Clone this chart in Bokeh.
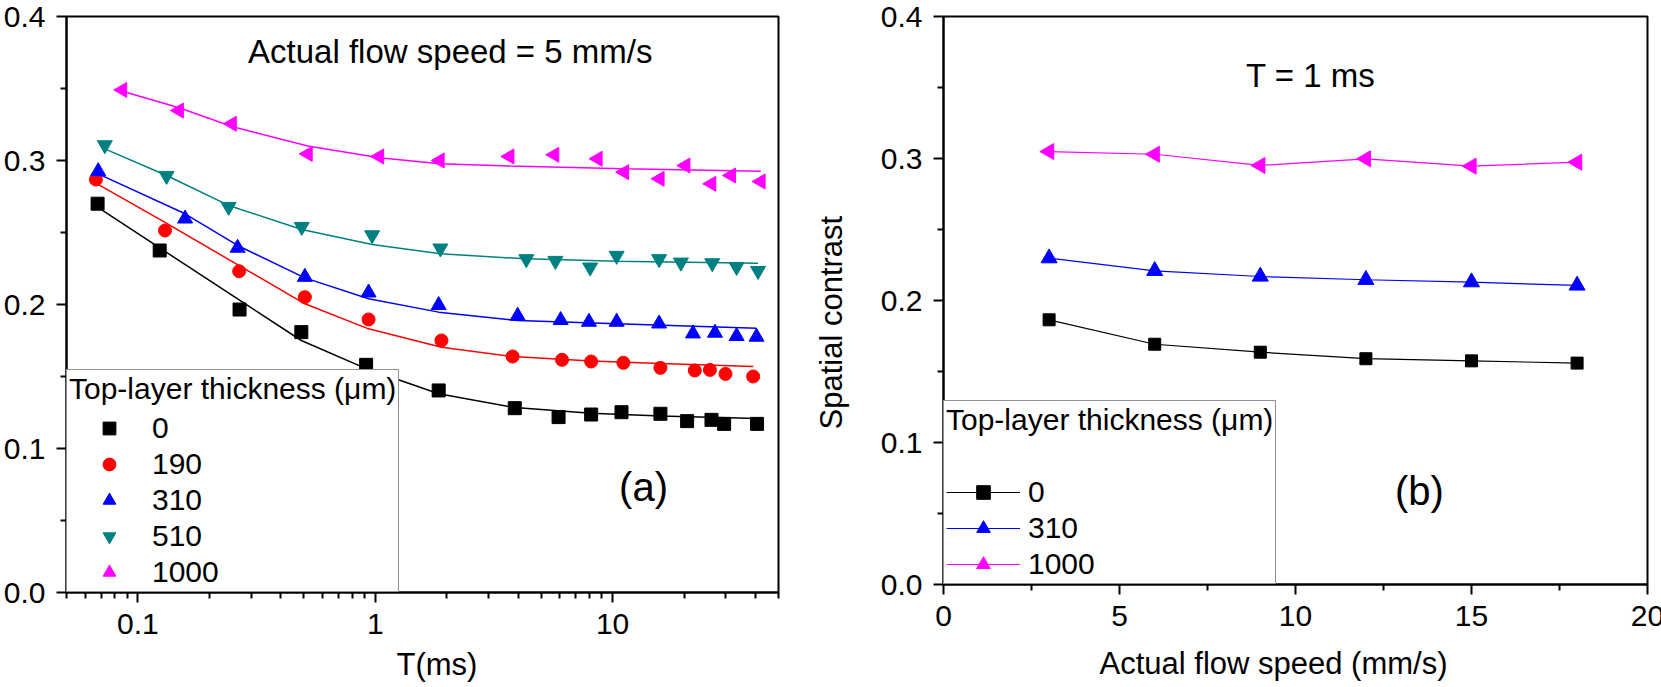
import numpy as np
from bokeh.plotting import figure
from bokeh.layouts import row
from bokeh.models import (FixedTicker, CustomJSTickFormatter, PrintfTickFormatter,
                          Legend, LegendItem, Label, Range1d, Title)
from bokeh.embed import file_html
from bokeh.resources import INLINE

FONT = "Liberation Sans"

# ---------------- data: panel (a) ----------------
t_0 = [0.0676, 0.1235, 0.268, 0.488, 0.915, 1.85, 3.87, 5.92, 8.12, 10.9, 15.9, 20.6, 26.1, 29.5, 40.6]
k_0 = [0.270, 0.2375, 0.1965, 0.1808, 0.1581, 0.1403, 0.128, 0.1218, 0.1236, 0.1252, 0.1241, 0.119, 0.1199, 0.1171, 0.1171]
t_190 = [0.0665, 0.130, 0.267, 0.505, 0.937, 1.90, 3.79, 6.12, 8.12, 11.1, 15.9, 22.2, 25.7, 29.9, 39.1]
k_190 = [0.2868, 0.2514, 0.2231, 0.2051, 0.1896, 0.175, 0.1639, 0.1616, 0.1604, 0.1595, 0.156, 0.1542, 0.1546, 0.1518, 0.150]
t_310 = [0.068, 0.158, 0.263, 0.505, 0.937, 1.85, 3.98, 6.04, 7.95, 10.4, 15.7, 21.8, 27.0, 33.3, 40.4]
k_310 = [0.2925, 0.2596, 0.2393, 0.2191, 0.2082, 0.1995, 0.1921, 0.1891, 0.1879, 0.1879, 0.1867, 0.1798, 0.1803, 0.178, 0.1775]
t_510 = [0.0725, 0.132, 0.241, 0.49, 0.97, 1.88, 4.33, 5.74, 8.04, 10.4, 15.7, 19.4, 26.3, 33.3, 41.0]
k_510 = [0.3107, 0.2894, 0.2679, 0.254, 0.2482, 0.239, 0.2316, 0.2304, 0.2258, 0.2339, 0.2316, 0.2292, 0.2288, 0.2262, 0.2234]
t_1000 = [0.086, 0.149, 0.249, 0.52, 1.04, 1.87, 3.68, 5.69, 8.66, 11.2, 15.8, 20.3, 26.1, 31.6, 42.1]
k_1000 = [0.349, 0.3347, 0.3255, 0.3046, 0.3028, 0.300, 0.3028, 0.304, 0.3012, 0.2919, 0.2873, 0.2965, 0.2838, 0.2896, 0.2854]

# fitted curves
ft_0 = [0.0676, 0.1235, 0.268, 0.488, 0.915, 1.85, 3.87, 8.12, 15.9, 40.6]
fk_0 = [0.2676, 0.2393, 0.2030, 0.1750, 0.1555, 0.1380, 0.1284, 0.1245, 0.1225, 0.1208]
ft_190 = [0.0665, 0.130, 0.267, 0.505, 0.937, 1.90, 3.79, 8.12, 15.9, 39.1]
fk_190 = [0.2843, 0.2570, 0.2270, 0.2005, 0.1831, 0.1703, 0.1639, 0.1608, 0.1590, 0.1570]
ft_310 = [0.068, 0.158, 0.263, 0.505, 0.937, 1.85, 3.98, 10.4, 40.4]
fk_310 = [0.2907, 0.2630, 0.2410, 0.2185, 0.2040, 0.1947, 0.1889, 0.1866, 0.1835]
ft_510 = [0.0725, 0.132, 0.241, 0.49, 0.97, 1.88, 4.33, 10.4, 41.0]
fk_510 = [0.3081, 0.2896, 0.2688, 0.2521, 0.2417, 0.2352, 0.2317, 0.2301, 0.2287]
ft_1000 = [0.086, 0.149, 0.249, 0.52, 1.04, 1.87, 3.68, 11.2, 42.1]
fk_1000 = [0.3481, 0.3366, 0.3236, 0.3100, 0.3019, 0.2977, 0.2961, 0.2942, 0.2926]

# ---------------- data: panel (b) ----------------
speed = [3, 6, 9, 12, 15, 18]
b_0 = [0.1864, 0.1692, 0.1636, 0.159, 0.1575, 0.1559]
b_310 = [0.2298, 0.2209, 0.2169, 0.2146, 0.2129, 0.2106]
b_1000 = [0.3049, 0.303, 0.2951, 0.2998, 0.2946, 0.2974]

y_ticks = [0.0, 0.1, 0.2, 0.3, 0.4]
y_minor = [0.05, 0.15, 0.25, 0.35]
x_ticks_a = [0.1, 1, 10]
x_minor_a = [0.05, 0.06, 0.07, 0.08, 0.09, 0.2, 0.3, 0.4, 0.5, 0.6, 0.7, 0.8, 0.9,
             2, 3, 4, 5, 6, 7, 8, 9, 20, 30, 40, 50]
x_ticks_b = [0, 5, 10, 15, 20]
x_minor_b = [2.5, 7.5, 12.5, 17.5]

BLACK, RED, BLUE, TEAL, MAGENTA = "#000000", "#FF0000", "#0000FF", "#008080", "#FF00FF"


def style(p):
    p.outline_line_color = "black"
    p.outline_line_width = 2
    p.grid.visible = False
    p.background_fill_color = "white"
    p.border_fill_color = "white"
    for ax in p.axis:
        ax.axis_line_width = 2
        ax.major_tick_line_width = 2
        ax.minor_tick_line_width = 2
        ax.major_tick_out = 10
        ax.major_tick_in = 0
        ax.minor_tick_out = 6
        ax.minor_tick_in = 0
        ax.major_label_text_font = FONT
        ax.major_label_text_font_size = "30px"
        ax.major_label_text_color = "black"
        ax.major_label_standoff = 11


def legend_style(lg):
    lg.border_line_color = "#222222"
    lg.border_line_width = 1
    lg.background_fill_color = "white"
    lg.background_fill_alpha = 1
    lg.margin = 0
    lg.label_text_font = FONT
    lg.label_text_font_size = "30px"
    lg.label_text_color = "black"
    lg.title_text_font = FONT
    lg.title_text_font_size = "30px"
    lg.title_text_font_style = "normal"
    lg.title_text_color = "black"


def text(p, x, y, s, size="33px"):
    p.add_layout(Label(x=x, y=y, text=s, text_align="center",
                       text_baseline="middle", text_font=FONT, text_font_size=size,
                       text_color="black"))


def axis_title(p, s, place, offset, standoff):
    p.add_layout(Title(text=s, align="left", offset=offset, standoff=standoff,
                       text_font=FONT, text_font_size="31px", text_font_style="normal",
                       text_color="black"), place)


# ---------------- panel (a) ----------------
p1 = figure(frame_width=712, frame_height=576, x_axis_type="log",
            x_range=Range1d(0.05, 50), y_range=Range1d(0, 0.4),
            output_backend="svg", toolbar_location=None,
            min_border_left=63, min_border_right=2, min_border_top=16, min_border_bottom=95)
p1.xaxis.ticker = FixedTicker(ticks=x_ticks_a, minor_ticks=x_minor_a)
p1.xaxis.formatter = CustomJSTickFormatter(code="return String(tick);")
p1.yaxis.ticker = FixedTicker(ticks=y_ticks, minor_ticks=y_minor)
p1.yaxis.formatter = PrintfTickFormatter(format="%.1f")
style(p1)

series_a = [
    ("0", t_0, k_0, ft_0, fk_0, BLACK, "square", 13, 0.0),
    ("190", t_190, k_190, ft_190, fk_190, RED, "circle", 13, 0.0),
    ("310", t_310, k_310, ft_310, fk_310, BLUE, "triangle", 15, 0.0),
    ("510", t_510, k_510, ft_510, fk_510, TEAL, "inverted_triangle", 15, 0.0),
    ("1000", t_1000, k_1000, ft_1000, fk_1000, MAGENTA, "triangle", 15, np.pi / 2),
]
items_a = []
for name, tx, ky, ftx, fky, col, mk, sz, ang in series_a:
    p1.line(ftx, fky, line_color=col, line_width=1.5)
    r = p1.scatter(tx, ky, marker=mk, size=sz, angle=ang, fill_color=col, line_color=col)
    items_a.append(LegendItem(label=name, renderers=[r]))

lg1 = Legend(items=items_a, location="bottom_left", title="Top-layer thickness (\u03bcm)")
legend_style(lg1)
lg1.padding = 2
lg1.glyph_height = 32
lg1.label_height = 32
lg1.spacing = 2
lg1.glyph_width = 80
lg1.label_standoff = 3
lg1.title_standoff = 5
p1.add_layout(lg1)

text(p1, 2.07, 0.3757, "Actual flow speed = 5 mm/s")
text(p1, 13.5, 0.073, "(a)", size="40px")
axis_title(p1, "T(ms)", "below", 330, 16)

# ---------------- panel (b) ----------------
p2 = figure(frame_width=704, frame_height=568,
            x_range=Range1d(0, 20), y_range=Range1d(0, 0.4),
            output_backend="svg", toolbar_location=None,
            min_border_left=163, min_border_right=17, min_border_top=15, min_border_bottom=104)
p2.xaxis.ticker = FixedTicker(ticks=x_ticks_b, minor_ticks=x_minor_b)
p2.yaxis.ticker = FixedTicker(ticks=y_ticks, minor_ticks=y_minor)
p2.yaxis.formatter = PrintfTickFormatter(format="%.1f")
style(p2)

series_b = [
    ("0", b_0, BLACK, "square", 12, 0.0),
    ("310", b_310, BLUE, "triangle", 16, 0.0),
    ("1000", b_1000, MAGENTA, "triangle", 16, np.pi / 2),
]
items_b = []
for name, ky, col, mk, sz, ang in series_b:
    rl = p2.line(speed, ky, line_color=col, line_width=1.2)
    rs = p2.scatter(speed, ky, marker=mk, size=sz, angle=ang, fill_color=col, line_color=col)
    items_b.append(LegendItem(label=name, renderers=[rl, rs]))

lg2 = Legend(items=items_b, location="bottom_left", title="Top-layer thickness (\u03bcm)")
legend_style(lg2)
lg2.padding = 2
lg2.glyph_height = 34
lg2.label_height = 34
lg2.spacing = 2
lg2.glyph_width = 74
lg2.label_standoff = 8
lg2.title_standoff = 38
p2.add_layout(lg2)

text(p2, 10.43, 0.3585, "T = 1 ms")
text(p2, 13.52, 0.0655, "(b)", size="40px")
axis_title(p2, "Actual flow speed (mm/s)", "below", 156, 31)
axis_title(p2, "Spatial contrast", "left", 155, 57)

layout = row(p1, p2)
open("out.html", "w").write(file_html(layout, INLINE))
